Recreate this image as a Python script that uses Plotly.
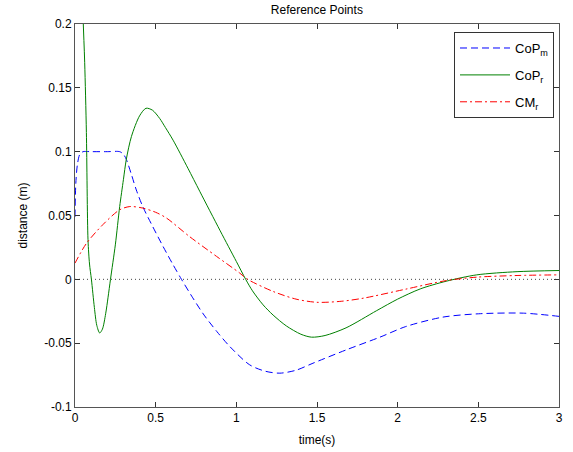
import plotly.graph_objects as go

# ---- data ----
t_cop_m = [0, 0.005, 0.015, 0.03, 0.05, 0.1, 0.2, 0.277, 0.30, 0.318, 0.35, 0.38, 0.42,
           0.483, 0.546, 0.608, 0.66, 0.73, 0.8, 0.88, 0.96, 1.083, 1.18, 1.27, 1.37,
           1.475, 1.68, 1.89, 2.05, 2.28, 2.5, 2.78, 3.0]
cop_m = [0.049, 0.075, 0.09, 0.098, 0.1, 0.1, 0.1, 0.1, 0.098, 0.094, 0.082, 0.070, 0.057,
         0.041, 0.0257, 0.0114, 0.0, -0.0145, -0.028, -0.041, -0.0527, -0.067, -0.0720,
         -0.0735, -0.0712, -0.0657, -0.0553, -0.0453, -0.0370, -0.0296, -0.027, -0.0265,
         -0.029]

t_cop_r = [0, 0.025, 0.05, 0.06, 0.0706, 0.0806, 0.09, 0.1017, 0.12, 0.135, 0.153, 0.17,
           0.19, 0.205, 0.22, 0.25, 0.277, 0.30, 0.318, 0.35, 0.40, 0.44, 0.48, 0.525,
           0.56, 0.608, 0.70, 0.773, 0.9, 1.0, 1.058, 1.1, 1.166, 1.228, 1.31, 1.4, 1.466,
           1.55, 1.68, 1.87, 2.0, 2.14, 2.3, 2.49, 2.74, 3.0]
cop_r = [0.4, 0.3, 0.205, 0.17, 0.115, 0.031, 0.012, 0.0, -0.022, -0.036, -0.042, -0.039,
         -0.027, -0.014, 0.0, 0.027, 0.057, 0.078, 0.094, 0.112, 0.128, 0.134, 0.1325, 0.126,
         0.119, 0.109, 0.087, 0.069, 0.038, 0.014, 0.0, -0.009, -0.020, -0.028, -0.0365,
         -0.0430, -0.0453, -0.044, -0.038, -0.0245, -0.0155, -0.0075, -0.0015, 0.0035,
         0.006, 0.0069]

t_cm_r = [0, 0.07, 0.174, 0.277, 0.34, 0.42, 0.5, 0.567, 0.71, 0.877, 1.02, 1.07, 1.23,
          1.37, 1.5, 1.65, 1.79, 2.05, 2.3, 2.49, 2.74, 3.0]
cm_r = [0.0127, 0.028, 0.043, 0.0545, 0.057, 0.0558, 0.0525, 0.048, 0.0335, 0.018, 0.005,
        0.0, -0.0096, -0.0155, -0.018, -0.0172, -0.0147, -0.0077, -0.001, 0.0017, 0.003,
        0.0035]

x_ticks = [0, 0.5, 1, 1.5, 2, 2.5, 3]
x_tick_labels = ["0", "0.5", "1", "1.5", "2", "2.5", "3"]
y_ticks = [-0.1, -0.05, 0, 0.05, 0.1, 0.15, 0.2]
y_tick_labels = ["-0.1", "-0.05", "0", "0.05", "0.1", "0.15", "0.2"]

FONT = "Liberation Sans, Arial, sans-serif"

fig = go.Figure()
fig.add_trace(go.Scatter(x=t_cop_m, y=cop_m, mode="lines", name="CoP<sub>m</sub>",
                         legendgroup="a",
                         line=dict(color="#0000ff", width=1, dash="7px,4px", shape="spline",
                                   smoothing=0.8)))
fig.add_trace(go.Scatter(x=t_cop_r, y=cop_r, mode="lines", name="CoP<sub>r</sub>",
                         legendgroup="b",
                         line=dict(color="#008000", width=1, shape="spline", smoothing=0.8)))
fig.add_trace(go.Scatter(x=t_cm_r, y=cm_r, mode="lines", name="CM<sub>r</sub>",
                         legendgroup="c",
                         line=dict(color="#ff0000", width=1, dash="7px,3px,2px,3px",
                                   shape="spline", smoothing=0.8)))

fig.add_hline(y=0, line=dict(color="#444444", width=1, dash="1px,3px"), layer="below")

axis_common = dict(showgrid=False, zeroline=False, showline=True, linecolor="#555555",
                   linewidth=1, mirror="ticks", ticks="inside", ticklen=5,
                   automargin=False,
                   tickcolor="#333333", tickfont=dict(family=FONT, size=12, color="#000000"))

fig.update_layout(
    width=573, height=452,
    margin=dict(l=75, r=14, t=24, b=45, autoexpand=False),
    paper_bgcolor="white", plot_bgcolor="white",
    font=dict(family=FONT, size=12, color="#000000"),
    title=dict(text="Reference Points", x=0.553, xanchor="center", y=0.978,
               yref="container", yanchor="middle", font=dict(family=FONT, size=12)),
    xaxis=dict(range=[0, 3], tickvals=x_ticks, ticktext=x_tick_labels,
               title=dict(text="time(s)", standoff=11, font=dict(family=FONT, size=12)),
               **axis_common),
    yaxis=dict(range=[-0.1, 0.2], tickvals=y_ticks, ticktext=y_tick_labels,
               title=dict(text="distance (m)", standoff=14, font=dict(family=FONT, size=12)),
               **axis_common),
    legend=dict(x=0.9897, y=0.979, xanchor="right", yanchor="top",
                bgcolor="white", bordercolor="#333333", borderwidth=1,
                itemwidth=50, tracegroupgap=7,
                font=dict(family=FONT, size=13)),
    showlegend=True,
)

fig.write_html("out.html", config={"displayModeBar": False},
               post_script="document.body.style.margin='0px';")
